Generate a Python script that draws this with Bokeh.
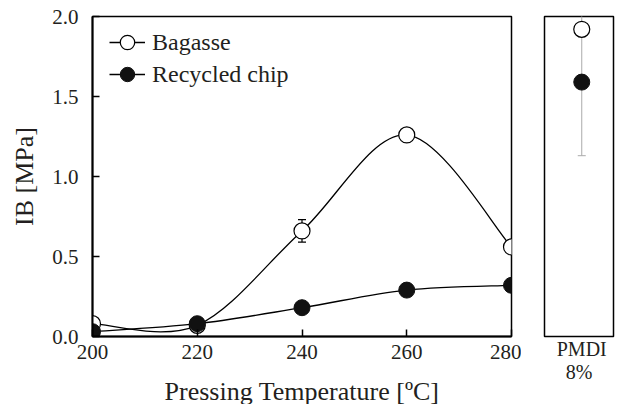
from bokeh.plotting import figure
from bokeh.models import (Range1d, FixedTicker, Whisker, ColumnDataSource,
                          Legend, LegendItem, TeeHead)
from bokeh.layouts import row
from bokeh.embed import file_html
from bokeh.resources import INLINE

# ---- data ----
temps = [200, 220, 240, 260, 280]
bagasse = [0.08, 0.07, 0.66, 1.26, 0.56]
bagasse_err = [0.0, 0.0, 0.07, 0.03, 0.0]
recycled = [0.03, 0.08, 0.18, 0.29, 0.32]
recycled_err = [0.0, 0.0, 0.0, 0.0, 0.0]
pmdi_x = [0]
pmdi_label = "PMDI"
pmdi_sub = "8%"
pmdi_bagasse = [1.92]
pmdi_recycled = [1.59]
pmdi_recycled_err = [0.46]
x_ticks = [200, 220, 240, 260, 280]
y_ticks = [0.0, 0.5, 1.0, 1.5, 2.0]

FONT = "Liberation Serif"
TXT = "#231f20"


def bezier_source(xs, ys):
    n = len(xs)
    d = dict(x0=[], y0=[], x1=[], y1=[], cx0=[], cy0=[], cx1=[], cy1=[])
    for i in range(n - 1):
        a = max(i - 1, 0)
        b = min(i + 2, n - 1)
        d["x0"].append(xs[i]); d["y0"].append(ys[i])
        d["x1"].append(xs[i + 1]); d["y1"].append(ys[i + 1])
        d["cx0"].append(xs[i] + (xs[i + 1] - xs[a]) / 6)
        d["cy0"].append(ys[i] + (ys[i + 1] - ys[a]) / 6)
        d["cx1"].append(xs[i + 1] - (xs[b] - xs[i]) / 6)
        d["cy1"].append(ys[i + 1] - (ys[b] - ys[i]) / 6)
    return ColumnDataSource(d)


def err_source(xs, ys, es):
    xx, lo, hi = [], [], []
    for x, y, e in zip(xs, ys, es):
        if e > 0:
            xx.append(x); lo.append(y - e); hi.append(y + e)
    return ColumnDataSource(dict(x=xx, lower=lo, upper=hi))


def style_axes(p):
    for ax in p.axis:
        ax.axis_line_width = 2
        ax.axis_line_color = "black"
        ax.major_tick_in = 7
        ax.major_tick_out = 0
        ax.minor_tick_in = 0
        ax.minor_tick_out = 0
        ax.major_tick_line_width = 1.5
        ax.major_label_text_font = FONT
        ax.major_label_text_font_style = "normal"
        ax.major_label_text_font_size = "21px"
        ax.major_label_text_color = TXT
        ax.axis_label_text_font = FONT
        ax.axis_label_text_font_size = "26px"
        ax.axis_label_text_font_style = "normal"
        ax.axis_label_text_color = TXT


p1 = figure(x_range=Range1d(200, 280), y_range=Range1d(0, 2.0),
            frame_width=419, frame_height=320,
            min_border_left=92, min_border_right=10, min_border_top=16,
            min_border_bottom=50,
            output_backend="svg", toolbar_location=None)
p1.grid.visible = False
p1.outline_line_color = "black"
p1.outline_line_width = 1.5
style_axes(p1)
p1.xaxis.ticker = FixedTicker(ticks=x_ticks)
p1.yaxis.ticker = FixedTicker(ticks=y_ticks)
p1.yaxis.major_label_overrides = {t: f"{t:.1f}" for t in y_ticks}
p1.xaxis.axis_label = "Pressing Temperature [ºC]"
p1.yaxis.axis_label = "IB [MPa]"
p1.xaxis.major_label_standoff = 8
p1.xaxis.axis_label_standoff = 15
p1.yaxis.major_label_standoff = 14
p1.yaxis.axis_label_standoff = 10

bag_curve = p1.bezier(source=bezier_source(temps, bagasse), x0="x0", y0="y0",
                      x1="x1", y1="y1", cx0="cx0", cy0="cy0", cx1="cx1",
                      cy1="cy1", line_color="black", line_width=1.3)
rec_curve = p1.bezier(source=bezier_source(temps, recycled), x0="x0", y0="y0",
                      x1="x1", y1="y1", cx0="cx0", cy0="cy0", cx1="cx1",
                      cy1="cy1", line_color="black", line_width=1.3)

for xs, ys, es in [(temps, bagasse, bagasse_err), (temps, recycled, recycled_err)]:
    src = err_source(xs, ys, es)
    if len(src.data["x"]):
        w = Whisker(base="x", lower="lower", upper="upper", source=src,
                    dimension="height", line_color="black", line_width=1.2,
                    upper_head=TeeHead(size=8, line_color="black", line_width=1.2),
                    lower_head=TeeHead(size=8, line_color="black", line_width=1.2),
                    level="underlay")
        p1.add_layout(w)

bag_pts = p1.scatter(temps, bagasse, size=16, marker="circle",
                     fill_color="white", line_color="black", line_width=1.2)
rec_pts = p1.scatter(temps, recycled, size=16, marker="circle",
                     fill_color="#111111", line_color="#111111", line_width=1)

legend_kw = dict(padding=0, margin=0, glyph_width=36, glyph_height=40,
                 label_standoff=7, label_text_font=FONT,
                 label_text_font_size="24px", label_text_color=TXT,
                 label_text_font_style="normal",
                 background_fill_alpha=0, border_line_color=None)
leg1 = Legend(items=[LegendItem(label="Bagasse", renderers=[bag_curve, bag_pts])],
              location=(17, 274), **legend_kw)
leg2 = Legend(items=[LegendItem(label="Recycled chip", renderers=[rec_curve, rec_pts])],
              location=(17, 242), **legend_kw)
p1.add_layout(leg1)
p1.add_layout(leg2)

# ---- PMDI panel ----
p2 = figure(x_range=Range1d(-1.08, 0.92), y_range=Range1d(0, 2.0),
            frame_width=69, frame_height=320,
            min_border_left=23, min_border_right=2, min_border_top=16,
            min_border_bottom=50,
            output_backend="svg", toolbar_location=None)
p2.grid.visible = False
p2.outline_line_color = "black"
p2.outline_line_width = 1.5
p2.yaxis.visible = False
style_axes(p2)
p2.xaxis.axis_line_color = None
p2.xaxis.major_tick_in = 0
p2.xaxis.ticker = FixedTicker(ticks=pmdi_x)
p2.xaxis.major_label_overrides = {pmdi_x[0]: pmdi_label}
p2.xaxis.axis_label = pmdi_sub
p2.xaxis.major_label_text_font_size = "20px"
p2.xaxis.axis_label_text_font_size = "20px"
p2.xaxis.major_label_standoff = 1
p2.xaxis.axis_label_standoff = -2

src2 = ColumnDataSource(dict(x=pmdi_x,
                             lower=[y - e for y, e in zip(pmdi_recycled, pmdi_recycled_err)],
                             upper=[y + e for y, e in zip(pmdi_recycled, pmdi_recycled_err)]))
p2.add_layout(Whisker(base="x", lower="lower", upper="upper", source=src2,
                      dimension="height", line_color="#aaaaaa", line_width=1,
                      upper_head=None,
                      lower_head=TeeHead(size=8, line_color="#aaaaaa", line_width=1),
                      level="underlay"))
p2.scatter(pmdi_x, pmdi_bagasse, size=16, marker="circle",
           fill_color="white", line_color="black", line_width=1.2)
p2.scatter(pmdi_x, pmdi_recycled, size=16, marker="circle",
           fill_color="#111111", line_color="#111111", line_width=1)

layout = row(p1, p2)
open("out.html", "w").write(file_html(layout, INLINE))
